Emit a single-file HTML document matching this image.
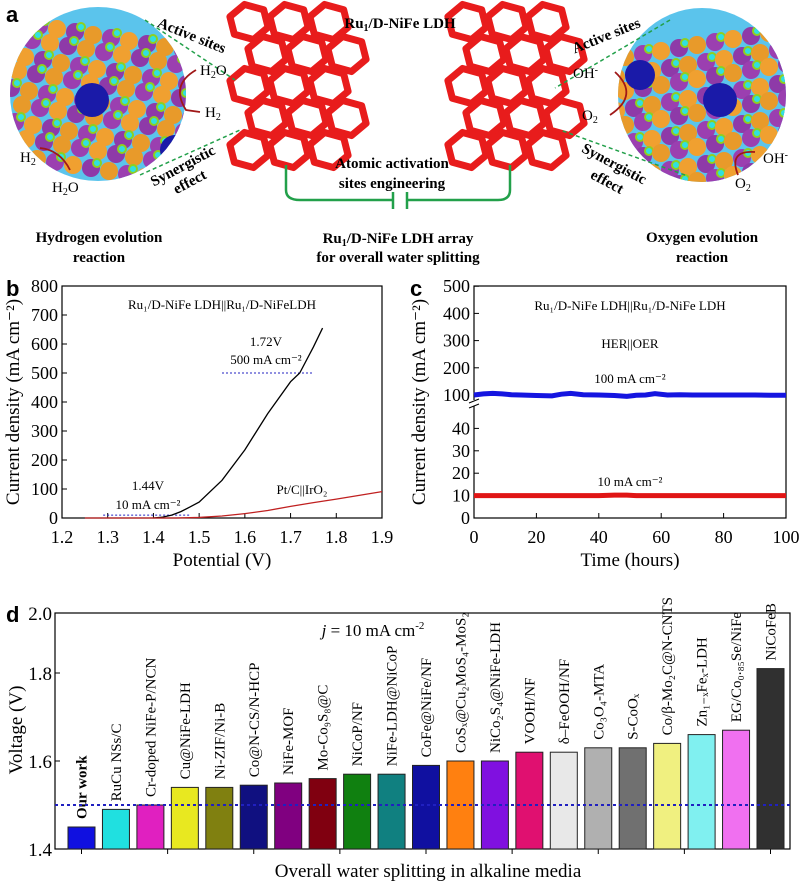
<!DOCTYPE html>
<html><head><meta charset="utf-8">
<style>
body{margin:0;background:#fff;}
svg{display:block;font-family:"Liberation Serif",serif;}
.sans{font-family:"Liberation Sans",sans-serif;}
</style></head>
<body>
<svg id="fig" width="801" height="884" viewBox="0 0 801 884" xmlns="http://www.w3.org/2000/svg">
<g id="pa">
  <text x="6" y="22" font-size="22" font-weight="bold" class="sans">a</text>
  <defs>
    <clipPath id="cl"><ellipse cx="98" cy="94" rx="88" ry="87"/></clipPath>
    <clipPath id="cr"><ellipse cx="702" cy="95" rx="84" ry="87"/></clipPath>
  </defs>
  <ellipse cx="98" cy="94" rx="88" ry="87" fill="#5bc4ec"/>
  <g id="atomsL" clip-path="url(#cl)"></g>
  <ellipse cx="702" cy="95" rx="84" ry="87" fill="#5bc4ec"/>
  <g id="atomsR" clip-path="url(#cr)"></g>
  <g id="cagesL"></g><g id="cagesR"></g>
  <g stroke="#22a04a" stroke-width="1.5" stroke-dasharray="4,3" fill="none">
    <line x1="145" y1="20" x2="235" y2="80"/><line x1="140" y1="175" x2="240" y2="130"/>
    <line x1="670" y1="20" x2="555" y2="88"/><line x1="685" y1="175" x2="560" y2="130"/>
  </g>
  <path d="M286 165 V190 Q286 200 300 200 H393 M407 200 H498 Q510 200 510 190 V165 M393 192 V209 M407 192 V209" stroke="#22a04a" stroke-width="2.5" fill="none"/>
  <g font-weight="bold" font-size="15" text-anchor="middle">
    <text x="400" y="28">Ru<tspan font-size="10" dy="3">1</tspan><tspan dy="-3">/D-NiFe LDH</tspan></text>
    <text x="190" y="40" transform="rotate(22 190 40)">Active sites</text>
    <text x="608" y="40" transform="rotate(-22 608 40)">Active sites</text>
    <text x="185" y="170" transform="rotate(-28 185 170)">Synergistic</text>
    <text x="192" y="186" transform="rotate(-28 192 186)">effect</text>
    <text x="612" y="168" transform="rotate(28 612 168)">Synergistic</text>
    <text x="605" y="186" transform="rotate(28 605 186)">effect</text>
    <text x="392" y="168">Atomic activation</text>
    <text x="392" y="188">sites engineering</text>
    <text x="398" y="243">Ru<tspan font-size="10" dy="3">1</tspan><tspan dy="-3">/D-NiFe LDH array</tspan></text>
    <text x="398" y="262">for overall water splitting</text>
    <text x="99" y="242">Hydrogen evolution</text>
    <text x="99" y="262">reaction</text>
    <text x="702" y="242">Oxygen evolution</text>
    <text x="702" y="262">reaction</text>
  </g>
  <g font-size="15">
    <text x="200" y="75">H<tspan font-size="10" dy="3">2</tspan><tspan dy="-3">O</tspan></text>
    <text x="205" y="117">H<tspan font-size="10" dy="3">2</tspan></text>
    <text x="20" y="162">H<tspan font-size="10" dy="3">2</tspan></text>
    <text x="52" y="192">H<tspan font-size="10" dy="3">2</tspan><tspan dy="-3">O</tspan></text>
    <text x="573" y="78">OH<tspan font-size="10" dy="-5">-</tspan></text>
    <text x="582" y="120">O<tspan font-size="10" dy="3">2</tspan></text>
    <text x="763" y="163">OH<tspan font-size="10" dy="-5">-</tspan></text>
    <text x="735" y="188">O<tspan font-size="10" dy="3">2</tspan></text>
  </g>
  <g stroke="#a01818" stroke-width="1.8" fill="none">
    <path d="M196 70 Q170 85 186 110 L200 112"/><path d="M70 170 Q60 150 40 148"/>
    <path d="M615 72 Q640 95 610 115"/><path d="M755 152 Q728 150 738 175"/>
  </g>
</g>
<g id="pb"></g>
<g id="pc"></g>
<g id="pd"></g>
</svg>
<script>
// ---------- Panel b data ----------
const bPotentialBlack = [1.40,1.42,1.44,1.46,1.48,1.50,1.55,1.60,1.65,1.70,1.72,1.75,1.77];
const bCurrentBlack   = [0,3,10,22,38,55,130,235,360,470,500,590,655];
const bPotentialRed   = [1.25,1.45,1.50,1.55,1.60,1.65,1.70,1.75,1.80,1.85,1.90];
const bCurrentRed     = [0,0,2,7,15,26,40,53,65,78,91];
const bXTicks = [1.2,1.3,1.4,1.5,1.6,1.7,1.8,1.9];
const bYTicks = [0,100,200,300,400,500,600,700,800];
// ---------- Panel c data ----------
const cHours = [0,3,6,9,12,15,20,25,28,31,35,40,45,49,52,55,58,62,66,70,75,80,85,90,95,100];
const cBlue  = [100,104,106,104,101,100,98,97,103,106,101,100,98,95,99,100,105,100,101,100,100,100,100,100,99,99];
const cRed   = [10,10,10,10,10,10,10,10,10,10,10,10,10.2,10.2,10,10,10,10,10,10,10,10,10,10,10,10];
const cXTicks = [0,20,40,60,80,100];
const cYLow = [0,10,20,30,40];
const cYHigh = [100,200,300,400,500];
// ---------- Panel d data ----------
const dLabels = ["Our work","RuCu NSs/C","Cr-doped NiFe-P/NCN","Cu@NiFe-LDH","Ni-ZIF/Ni-B","Co@N-CS/N-HCP","NiFe-MOF","Mo-Co₉S₈@C","NiCoP/NF","NiFe-LDH@NiCoP","CoFe@NiFe/NF","CoSₓ@Cu₂MoS₄-MoS₂","NiCo₂S₄@NiFe-LDH","VOOH/NF","δ–FeOOH/NF","Co₃O₄-MTA","S-CoOₓ","Co/β-Mo₂C@N-CNTS","Zn₁₋ₓFeₓ-LDH","EG/Co₀.₈₅Se/NiFe","NiCoFeB"];
const dValues = [1.45,1.49,1.50,1.54,1.54,1.545,1.55,1.56,1.57,1.57,1.59,1.60,1.60,1.62,1.62,1.63,1.63,1.64,1.66,1.67,1.81];
const dColors = ["#1010e0","#20e0e0","#e020c0","#e8e820","#808010","#101080","#800080","#800010","#108010","#108080","#1010a0","#ff8010","#8010e0","#e01070","#e8e8e8","#b0b0b0","#707070","#f0f080","#80f0f0","#f070f0","#303030"];
const dYTicks = [1.4,1.6,1.8];

const NS="http://www.w3.org/2000/svg";
function mk(tag, attrs, parent, txt){const e=document.createElementNS(NS,tag);for(const k in attrs)e.setAttribute(k,attrs[k]);if(txt!==undefined)e.textContent=txt;parent.appendChild(e);return e;}

(function(){
  const cols=["#8e3aa8","#e89a2a","#9b3fb0","#f0a030"];
  ["atomsL","atomsR"].forEach((id,k)=>{
    const g=document.getElementById(id);
    const cx=k?702:98;
    for(let r=0;r<9;r++)for(let c=0;c<11;c++){
      const x=cx-95+c*18+(r%2)*9+(k?0:r*2), y=(k?60:20)+r*17+(k?-c*3:c*3);
      mk('circle',{cx:x,cy:y,r:9,fill:cols[(r+c)%4]},g);
      if((r+c)%2==0) mk('circle',{cx:x+6,cy:y-5,r:4,fill:"#30e0e0",stroke:"#8ed020","stroke-width":2},g);
    }
    mk('circle',{cx:k?720:92,cy:100,r:17,fill:"#1a1aa8"},g);
    mk('circle',{cx:k?640:175,cy:k?75:150,r:15,fill:"#1a1aa8"},g);
  });
  [["cagesL",291],["cagesR",509]].forEach(([id,cx])=>{
    const g=document.getElementById(id);
    
    
    for(let i=0;i<5;i++)for(let j=0;j<3;j++){
      const x=cx-42+j*40+(i%2)*18, y=22+i*32;
      mk('polygon',{points:[0,1,2,3,4,5].map(t=>{const a=t*Math.PI/3+0.3;return (x+20*Math.cos(a))+","+(y+18*Math.sin(a));}).join(" "),fill:"none",stroke:"#e81c1c","stroke-width":7,"stroke-linejoin":"round"},g);
    }
  });
})();

// ---- Panel b
(function(){
  const g=document.getElementById('pb');
  const x0=62,x1=382,y0=518,y1=286;
  const X=v=>x0+(v-1.2)/(1.9-1.2)*(x1-x0), Y=v=>y0-(v/800)*(y0-y1);
  mk('text',{x:6,y:296,"font-size":22,"font-weight":"bold",class:"sans"},g,"b");
  mk('rect',{x:x0,y:y1,width:x1-x0,height:y0-y1,fill:"none",stroke:"#000","stroke-width":1.2},g);
  bXTicks.forEach(t=>{mk('line',{x1:X(t),x2:X(t),y1:y0,y2:y0-5,stroke:"#000"},g);
    const l=mk('text',{x:X(t),y:y0+25,"font-size":18,"text-anchor":"middle"},g,t.toFixed(1));
    });
  bYTicks.forEach(t=>{mk('line',{x1:x0,x2:x0+5,y1:Y(t),y2:Y(t),stroke:"#000"},g);
    const l=mk('text',{x:x0-4,y:Y(t)+6,"font-size":18,"text-anchor":"end"},g,String(t));
    });
  const bx=mk('text',{x:222,y:566,"font-size":19,"text-anchor":"middle"},g,"Potential (V)");
  
  const by=mk('text',{x:0,y:0,"font-size":19,"text-anchor":"middle",transform:"translate(19,402) rotate(-90)"},g,"Current density (mA cm⁻²)");
  
  mk('text',{x:222,y:309,"font-size":13,"text-anchor":"middle"},g,"Ru₁/D-NiFe LDH||Ru₁/D-NiFeLDH");
  mk('text',{x:266,y:346,"font-size":13,"text-anchor":"middle"},g,"1.72V");
  mk('text',{x:266,y:364,"font-size":13,"text-anchor":"middle"},g,"500 mA cm⁻²");
  mk('text',{x:148,y:490,"font-size":13,"text-anchor":"middle"},g,"1.44V");
  mk('text',{x:148,y:509,"font-size":13,"text-anchor":"middle"},g,"10 mA cm⁻²");
  mk('text',{x:302,y:494,"font-size":13,"text-anchor":"middle"},g,"Pt/C||IrO₂");
  mk('line',{x1:X(1.55),x2:X(1.75),y1:Y(500),y2:Y(500),stroke:"#2020c0","stroke-dasharray":"2,2"},g);
  mk('line',{x1:X(1.29),x2:X(1.48),y1:Y(10),y2:Y(10),stroke:"#2020c0","stroke-dasharray":"2,2"},g);
  const pb=mk('polyline',{points:bPotentialBlack.map((v,i)=>X(v)+","+Y(bCurrentBlack[i])).join(" "),fill:"none",stroke:"#000","stroke-width":1.3},g);
  
  const pr=mk('polyline',{points:bPotentialRed.map((v,i)=>X(v)+","+Y(bCurrentRed[i])).join(" "),fill:"none",stroke:"#c02020","stroke-width":1.3},g);
  
})();

// ---- Panel c
(function(){
  const g=document.getElementById('pc');
  const x0=474,x1=786,y0=518,y1=286;
  const X=v=>x0+v/100*(x1-x0);
  const Y=v=>v<=50? y0-v*2.24 : 395-(v-100)*0.272;
  mk('text',{x:410,y:296,"font-size":22,"font-weight":"bold",class:"sans"},g,"c");
  mk('rect',{x:x0,y:y1,width:x1-x0,height:y0-y1,fill:"none",stroke:"#000","stroke-width":1.2},g);
  mk('rect',{x:x0-4,y:400,width:8,height:6,fill:"#fff"},g);
  mk('line',{x1:x0-5,y1:403,x2:x0+5,y2:399,stroke:"#000"},g);
  mk('line',{x1:x0-5,y1:408,x2:x0+5,y2:404,stroke:"#000"},g);
  cXTicks.forEach(t=>{mk('line',{x1:X(t),x2:X(t),y1:y0,y2:y0-5,stroke:"#000"},g);
    const l=mk('text',{x:X(t),y:y0+25,"font-size":18,"text-anchor":"middle"},g,String(t));
    });
  cYLow.concat(cYHigh).forEach(t=>{mk('line',{x1:x0,x2:x0+5,y1:Y(t),y2:Y(t),stroke:"#000"},g);
    const l=mk('text',{x:x0-4,y:Y(t)+6,"font-size":18,"text-anchor":"end"},g,String(t));
    });
  const cx=mk('text',{x:630,y:566,"font-size":19,"text-anchor":"middle"},g,"Time (hours)");
  
  const cy=mk('text',{x:0,y:0,"font-size":19,"text-anchor":"middle",transform:"translate(425,402) rotate(-90)"},g,"Current density (mA cm⁻²)");
  
  mk('text',{x:630,y:310,"font-size":13,"text-anchor":"middle"},g,"Ru₁/D-NiFe LDH||Ru₁/D-NiFe LDH");
  mk('text',{x:630,y:348,"font-size":13,"text-anchor":"middle"},g,"HER||OER");
  mk('text',{x:630,y:383,"font-size":13,"text-anchor":"middle"},g,"100 mA cm⁻²");
  mk('text',{x:630,y:486,"font-size":13,"text-anchor":"middle"},g,"10 mA cm⁻²");
  const lb=mk('polyline',{points:cHours.map((h,i)=>X(h)+","+Y(cBlue[i])).join(" "),fill:"none",stroke:"#1515e0","stroke-width":5},g);
  
  const lr=mk('polyline',{points:cHours.map((h,i)=>X(h)+","+Y(cRed[i])).join(" "),fill:"none",stroke:"#e01515","stroke-width":5},g);
  
})();

// ---- Panel d
(function(){
  const g=document.getElementById('pd');
  const x0=55,x1=790,yb=849,ytop=613;
  const Y=v=>849-(v-1.4)/0.2*88;
  const pitch=34.45, bw=27, first=68;
  const Xc=i=>first+bw/2+i*pitch;
  mk('text',{x:6,y:622,"font-size":22,"font-weight":"bold",class:"sans"},g,"d");
  mk('rect',{x:x0,y:ytop,width:x1-x0,height:yb-ytop,fill:"none",stroke:"#000","stroke-width":1.2},g);
  dYTicks.forEach(t=>{mk('line',{x1:x0,x2:x0+5,y1:Y(t),y2:Y(t),stroke:"#000"},g);
    const l=mk('text',{x:x0-3,y:Y(t)+7,"font-size":19,"text-anchor":"end"},g,t.toFixed(1));
    });
  const t2=mk('text',{x:x0-3,y:ytop+7,"font-size":19,"text-anchor":"end"},g,"2.0");
  
  for(let k=0;k<=8;k++){const x=Xc(k*2.5);mk('line',{x1:x,x2:x,y1:yb,y2:yb+5,stroke:"#000"},g);}
  const dy=mk('text',{x:0,y:0,"font-size":19,"text-anchor":"middle",transform:"translate(22,730) rotate(-90)"},g,"Voltage (V)");
  
  const dx=mk('text',{x:428,y:877,"font-size":19,"text-anchor":"middle"},g,"Overall water splitting in alkaline media");
  
  const jt=mk('text',{x:373,y:636,"font-size":17,"text-anchor":"middle"},g,"");
  
  
  jt.innerHTML='<tspan font-style="italic">j</tspan> = 10 mA cm<tspan font-size="11" dy="-7">-2</tspan>';
  dValues.forEach((v,i)=>{
    const b=mk('rect',{x:Xc(i)-bw/2,y:Y(v),width:bw,height:yb-Y(v),fill:dColors[i],stroke:"#222","stroke-width":1},g);
    
    
    const l=mk('text',{x:0,y:0,"font-size":15,transform:`translate(${Xc(i)+5},${Y(v)-8}) rotate(-90)`,"font-weight":i===0?"bold":"normal"},g,dLabels[i]);
    
    
  });
  mk('line',{x1:x0,x2:x1,y1:Y(1.5),y2:Y(1.5),stroke:"#2020c0","stroke-width":2,"stroke-dasharray":"3,3"},g);
})();
</script>
</body></html>
